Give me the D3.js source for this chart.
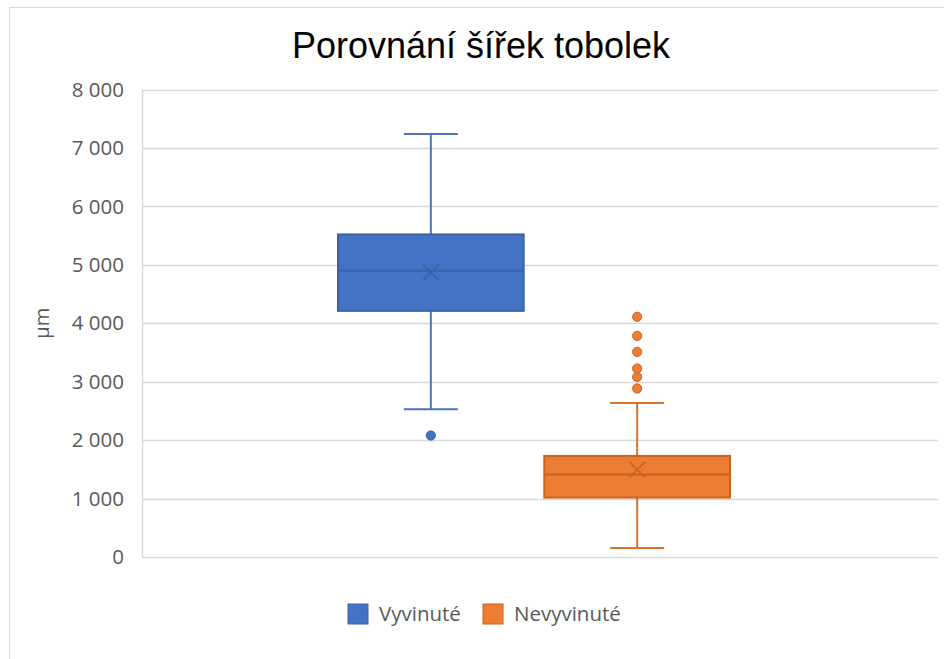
<!DOCTYPE html>
<html>
<head>
<meta charset="utf-8">
<script src="https://cdn.jsdelivr.net/npm/d3@7"></script>
<style>
  body { margin: 0; background: #fff; }
  svg { display: block; }
</style>
</head>
<body>
<svg id="chart" width="944" height="659"></svg>
<script>
// values (µm)
const seriesNames = ['Vyvinuté', 'Nevyvinuté'];
const whiskerLow = [2529, 154];
const q1 = [4212, 1017];
const median = [4897, 1411];
const q3 = [5520, 1729];
const whiskerHigh = [7238, 2637];
const means = [4870, 1497];
const outliers = [[2079], [2884, 3082, 3226, 3510, 3784, 4110]];
const yTicks = [0, 1000, 2000, 3000, 4000, 5000, 6000, 7000, 8000];

const fills = ['#4472C4', '#ED7D31'];
const strokes = ['#3A62AA', '#C8651F'];
const whiskerColors = ['#4A74BE', '#D8722C'];

const svg = d3.select('#chart');
const plot = { left: 142, right: 938, top: 89.5, bottom: 557 };

const fmt = d3.formatLocale({ decimal: ',', thousands: ' ', grouping: [3], currency: ['', ''] }).format(',d');

// chart frame (only top/left edges fall inside the image)
svg.append('rect')
  .attr('x', 9.5).attr('y', 7.5)
  .attr('width', 960).attr('height', 700)
  .attr('fill', 'none').attr('stroke', '#d9d9d9').attr('stroke-width', 1);

const y = d3.scaleLinear().domain([0, 8000]).range([plot.bottom, plot.top]);

const xCat = d3.scaleBand().domain(['all']).range([plot.left, 926]).paddingOuter(0.5).paddingInner(0);
const xSeries = d3.scaleBand().domain(seriesNames)
  .range([xCat('all'), xCat('all') + xCat.bandwidth()]).paddingInner(0.1).paddingOuter(0);

// gridlines
svg.append('g').selectAll('line').data(yTicks).enter().append('line')
  .attr('x1', plot.left).attr('x2', plot.right)
  .attr('y1', d => Math.round(y(d)) + 0.5).attr('y2', d => Math.round(y(d)) + 0.5)
  .attr('stroke', '#d9d9d9').attr('stroke-width', 1.5);

// y axis line
svg.append('line')
  .attr('x1', plot.left + 0.5).attr('x2', plot.left + 0.5)
  .attr('y1', plot.top).attr('y2', plot.bottom)
  .attr('stroke', '#d9d9d9').attr('stroke-width', 1.5);

// tick labels
svg.append('g').selectAll('text').data(yTicks).enter().append('text')
  .attr('x', 124).attr('y', d => y(d))
  .attr('dy', '0.35em')
  .attr('text-anchor', 'end')
  .attr('font-family', 'Open Sans, sans-serif')
  .attr('font-size', 20.5)
  .attr('fill', '#595959')
  .text(d => fmt(d));

// axis title
svg.append('text')
  .attr('transform', `translate(49, ${(plot.top + plot.bottom) / 2}) rotate(-90)`)
  .attr('text-anchor', 'middle')
  .attr('font-family', 'Open Sans, sans-serif')
  .attr('font-size', 20)
  .attr('fill', '#595959')
  .text('µm');

// title
svg.append('text')
  .attr('x', 481).attr('y', 58)
  .attr('text-anchor', 'middle')
  .attr('font-family', 'Liberation Sans, Arial, sans-serif')
  .attr('font-size', 36)
  .attr('fill', '#000')
  .text('Porovnání šířek tobolek');

// boxes
const boxes = svg.append('g').selectAll('g').data(seriesNames).enter().append('g');

boxes.each(function(name, i) {
  const g = d3.select(this);
  const x0 = xSeries(name);
  const w = xSeries.bandwidth();
  const cx = x0 + w / 2;
  const capHalf = 27;

  // whiskers
  g.append('line')
    .attr('x1', cx).attr('x2', cx)
    .attr('y1', y(whiskerHigh[i])).attr('y2', y(q3[i]))
    .attr('stroke', whiskerColors[i]).attr('stroke-width', 2);
  g.append('line')
    .attr('x1', cx).attr('x2', cx)
    .attr('y1', y(q1[i])).attr('y2', y(whiskerLow[i]))
    .attr('stroke', whiskerColors[i]).attr('stroke-width', 2);
  [whiskerHigh[i], whiskerLow[i]].forEach(v => {
    g.append('line')
      .attr('x1', cx - capHalf).attr('x2', cx + capHalf)
      .attr('y1', y(v)).attr('y2', y(v))
      .attr('stroke', whiskerColors[i]).attr('stroke-width', 2);
  });

  // box
  g.append('rect')
    .attr('x', x0).attr('y', y(q3[i]))
    .attr('width', w).attr('height', y(q1[i]) - y(q3[i]))
    .attr('fill', fills[i]).attr('stroke', strokes[i]).attr('stroke-width', 2);

  // median
  g.append('line')
    .attr('x1', x0).attr('x2', x0 + w)
    .attr('y1', y(median[i])).attr('y2', y(median[i]))
    .attr('stroke', strokes[i]).attr('stroke-width', 2);

  // mean marker
  const my = y(means[i]);
  const s = 8;
  g.append('path')
    .attr('d', `M${cx - s},${my - s}L${cx + s},${my + s}M${cx - s},${my + s}L${cx + s},${my - s}`)
    .attr('stroke', strokes[i]).attr('stroke-width', 1.8).attr('fill', 'none');

  // outliers
  g.selectAll('circle').data(outliers[i]).enter().append('circle')
    .attr('cx', cx).attr('cy', d => y(d)).attr('r', 4.6)
    .attr('fill', fills[i]).attr('stroke', strokes[i]).attr('stroke-width', 1);
});

// legend
const legendX = [348, 483];
const legend = svg.append('g').selectAll('g').data(seriesNames).enter().append('g')
  .attr('transform', (d, i) => `translate(${legendX[i]}, 604)`);
legend.append('rect')
  .attr('width', 20).attr('height', 20)
  .attr('fill', (d, i) => fills[i]).attr('stroke', (d, i) => strokes[i]).attr('stroke-width', 1);
legend.append('text')
  .attr('x', 31).attr('y', 10).attr('dy', '0.35em')
  .attr('font-family', 'Open Sans, sans-serif')
  .attr('font-size', 20.5)
  .attr('fill', '#595959')
  .text(d => d);
</script>
</body>
</html>
